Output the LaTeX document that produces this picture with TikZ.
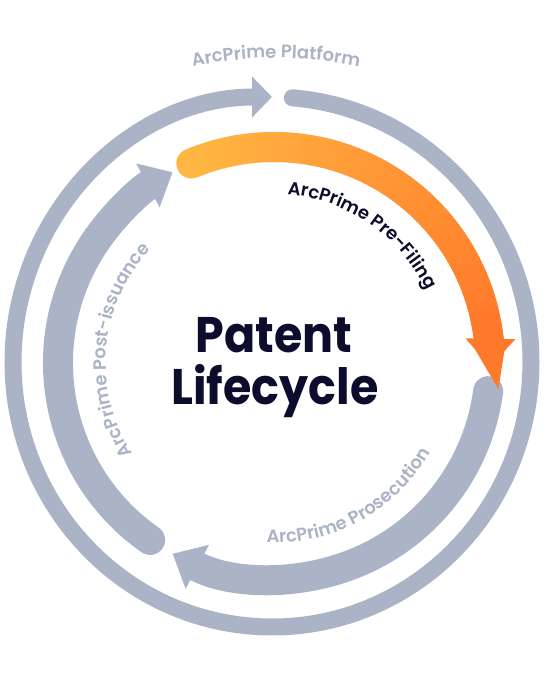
\documentclass[tikz,border=0pt]{standalone}
\usepackage{fontspec}
\usetikzlibrary{arrows.meta,decorations.text}
\setmainfont{Poppins}
\IfFontExistsTF{Poppins SemiBold}
 {\newfontfamily\lblfont{Poppins SemiBold}}
 {\newfontfamily\lblfontbase{Poppins}\newcommand\lblfont{\lblfontbase\bfseries}}
\newfontfamily\bigfont{Poppins}[FakeStretch=0.92]
\definecolor{ringgray}{RGB}{171,180,198}
\definecolor{navy}{RGB}{12,12,44}
\definecolor{oA}{RGB}{255,182,66}
\definecolor{oB}{RGB}{255,121,42}
\tikzset{
  ring/.style={draw=ringgray, line width=17pt},
  thickring/.style={draw=ringgray, line width=30pt},
  bigtip/.tip={Triangle[length=28pt,width=48pt]},
  smalltip/.tip={Triangle[length=20pt,width=40pt]},
  bigtext/.style={text=navy, font=\bigfont\bfseries\fontsize{50}{52}\selectfont, inner sep=0pt}
}
\newcommand\lblsize{\lblfont\fontsize{18}{18}\selectfont}
\begin{document}
\begin{tikzpicture}[x=1pt,y=1pt]
\fill[white] (0,0) rectangle (548,678);
\useasboundingbox (0,0) rectangle (548,678);
\coordinate (c1) at (274,315);
\coordinate (c2) at (272,316);
\coordinate (c3) at (276,220);
% outer ring
\draw[ring, line cap=round, -{smalltip}] (c2) ++(85.5:259pt and 265pt)
  arc[start angle=85.5, end angle=-270, x radius=259pt, y radius=265pt];
% inner gray arcs
\draw[thickring, line cap=round, -{bigtip}] (c1) ++(-7.5:216pt)
  arc[start angle=-7.5, end angle=-118, radius=216pt];
\draw[thickring, line cap=round, -{bigtip}] (c1) ++(-125:216pt)
  arc[start angle=-125, end angle=-242, radius=216pt];
% orange gradient arc
\fill[oA] (c1) ++(112.5:216pt) circle (15pt);
\foreach \i in {0,...,99}{
  \pgfmathsetmacro{\a}{112.5-\i*1.025}
  \pgfmathsetmacro{\b}{\a-1.4}
  \draw[line width=30pt, draw=oB!\i!oA] (c1) ++(\a:216pt) arc[start angle=\a, end angle=\b, radius=216pt];
}
\draw[line width=30pt, draw=oB, -{bigtip}] (c1) ++(10:216pt)
  arc[start angle=10, end angle=-1, radius=216pt];
% labels
\path[decorate, decoration={text along path, text align=center, text color=ringgray,
   text={|\lblsize|ArcPrime Platform}}]
   (c3) ++(105:400pt) arc[start angle=105, end angle=75, radius=400pt];
\path[decorate, decoration={text along path, text align=center, text color=navy,
   text={|\lblsize|ArcPrime Pre-Filing}}]
   (c1) ++(100:169pt) arc[start angle=100, end angle=11, radius=169pt];
\path[decorate, decoration={text along path, text align=center, text color=ringgray,
   text={|\lblsize|ArcPrime Prosecution}}]
   (c1) ++(-105:180pt) arc[start angle=-105, end angle=-17, radius=180pt];
\path[decorate, decoration={text along path, text align=center, text color=ringgray,
   text={|\lblsize|ArcPrime Post-issuance}}]
   (c1) ++(222:168pt) arc[start angle=222, end angle=128, radius=168pt];
% centre title
\node[bigtext, anchor=base] (t1) at (274,325) {Patent};
\node[bigtext, anchor=base] (t2) at (275,273) {Lifecycle};
\end{tikzpicture}
\end{document}
